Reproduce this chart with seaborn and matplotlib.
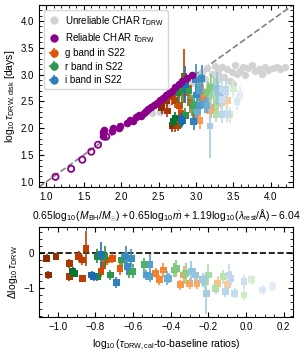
import numpy as np
import pandas as pd
import matplotlib.pyplot as plt
from matplotlib.colors import ListedColormap, Normalize
from matplotlib.lines import Line2D
from matplotlib.ticker import AutoMinorLocator, MultipleLocator
import seaborn as sns

# CHAR tau_DRW, unreliable (grey)
unrel_x = [2.41, 2.52, 2.62, 2.75, 2.88, 2.95, 3.00, 3.05, 3.08, 3.12, 3.15, 3.18, 3.22, 3.25,
           3.28, 3.30, 3.35, 3.38, 3.42, 3.45, 3.48, 3.52, 3.55, 3.59, 3.63, 3.66, 3.70, 3.75,
           3.79, 3.84, 3.88, 3.92, 3.97, 4.03, 4.08, 4.13, 4.19, 3.10, 3.20, 3.32, 3.50]
unrel_y = [2.28, 2.31, 2.45, 2.60, 2.72, 2.85, 2.95, 2.82, 3.05, 2.92, 3.12, 2.80, 3.02, 3.16,
           2.90, 3.06, 3.14, 2.96, 3.10, 2.88, 3.04, 3.18, 3.02, 3.06, 3.15, 3.00, 3.12, 3.18,
           3.06, 3.10, 3.02, 3.15, 3.08, 3.12, 3.15, 3.10, 3.15, 2.70, 2.66, 2.96, 2.82]

# CHAR tau_DRW, reliable (purple filled)
rel_x = [1.76, 1.76, 1.77, 1.88, 1.89, 1.97, 1.98, 2.08, 2.12, 2.16, 2.20, 2.24, 2.27, 2.30,
         2.33, 2.36, 2.40, 2.44, 2.48, 2.52, 2.56, 2.60, 2.64, 2.68, 2.72, 2.77, 2.82, 2.88, 2.95]
rel_y = [1.86, 1.92, 1.97, 1.95, 2.00, 2.00, 2.04, 2.10, 2.15, 2.14, 2.20, 2.24, 2.22, 2.28,
         2.32, 2.36, 2.40, 2.44, 2.47, 2.52, 2.56, 2.62, 2.66, 2.70, 2.76, 2.82, 2.88, 2.94, 2.99]

# reliable, open circles
open_x = [1.12, 1.33, 1.48, 1.60, 1.69, 1.80]
open_y = [1.09, 1.24, 1.41, 1.56, 1.69, 1.84]

# S22 g band
g_ratio = [-1.06, -1.05, -1.01, -0.94, -0.94, -0.89, -0.87, -0.85, -0.87, -0.77, -0.76, -0.74,
           -0.71, -0.67, -0.48, -0.46, -0.44, -0.35, -0.33, -0.30, -0.26, -0.15, -0.10]
g_delta = [-0.15, -0.63, -0.10, -0.30, -0.68, -0.10, -0.20, 0.13, -0.72, -0.53, -0.35, -0.20,
           -0.15, -0.44, -0.58, -0.77, -0.49, -0.91, -0.63, -0.87, -0.87, -0.87, -0.91]
g_err = [0.12, 0.12, 0.10, 0.12, 0.12, 0.15, 0.15, 0.50, 0.10, 0.15, 0.20, 0.15,
         0.15, 0.20, 0.15, 0.15, 0.20, 0.15, 0.25, 0.15, 0.15, 0.20, 0.15]
g_pred = [2.54, 2.68, 2.61, 2.62, 2.72, 2.68, 2.72, 2.84, 2.76, 2.80, 2.78, 2.86,
          2.90, 2.92, 3.06, 3.00, 3.10, 3.05, 3.15, 3.20, 3.25, 3.35, 3.42]

# S22 r band
r_ratio = [-0.92, -0.91, -0.79, -0.79, -0.75, -0.72, -0.66, -0.62, -0.60, -0.54, -0.38, -0.37,
           -0.32, -0.22, -0.20, -0.16, -0.12, -0.01, 0.03]
r_delta = [-0.53, -0.58, -0.10, -0.68, -0.10, -0.63, -0.20, -0.53, -0.53, -0.34, -0.49, -0.44,
           -0.58, -0.82, -0.63, -1.01, -0.68, -1.20, -0.77]
r_err = [0.12, 0.10, 0.20, 0.12, 0.30, 0.15, 0.20, 0.20, 0.20, 0.20, 0.20, 0.25,
         0.30, 0.20, 0.30, 0.15, 0.20, 0.15, 0.15]
r_pred = [2.72, 2.70, 2.76, 2.80, 2.82, 2.86, 2.90, 2.95, 2.98, 3.04, 3.16, 3.20,
          3.24, 3.30, 3.26, 3.27, 3.40, 3.45, 3.50]

# S22 i band
i_ratio = [-0.82, -0.81, -0.77, -0.69, -0.64, -0.63, -0.61, -0.53, -0.51, -0.51, -0.42, -0.41,
           -0.29, -0.27, -0.23, -0.21, -0.11, -0.09, -0.08, -0.06, -0.01, 0.09, 0.14]
i_delta = [-0.63, -0.68, -0.05, -0.85, -0.10, -0.39, -0.15, -0.63, -0.34, -0.68, -0.72, -0.72,
           -0.53, -0.63, -0.77, -1.15, -1.10, -0.63, -0.72, -1.15, -0.82, -1.06, -0.96]
i_err = [0.12, 0.12, 0.35, 0.15, 0.30, 0.20, 0.25, 0.15, 0.30, 0.15, 0.20, 0.15,
         0.30, 0.20, 0.20, 0.60, 0.15, 0.30, 0.20, 0.15, 0.20, 0.15, 0.15]
i_pred = [2.80, 2.82, 2.86, 2.97, 3.00, 3.01, 3.08, 3.05, 3.05, 3.12, 3.02, 3.15,
          3.28, 3.30, 3.33, 3.19, 3.35, 3.35, 3.40, 3.42, 3.35, 3.55, 3.59]

sns.set_style("ticks")
plt.rcParams['font.family'] = ['Liberation Sans', 'DejaVu Sans']
plt.rcParams['mathtext.fontset'] = 'custom'
plt.rcParams['mathtext.rm'] = 'Liberation Sans'
plt.rcParams['mathtext.it'] = 'Liberation Sans:italic'
plt.rcParams['mathtext.bf'] = 'Liberation Sans:bold'
plt.rcParams['xtick.direction'] = 'in'
plt.rcParams['ytick.direction'] = 'in'
plt.rcParams['xtick.top'] = True
plt.rcParams['ytick.right'] = True
plt.rcParams['xtick.major.size'] = 3.5
plt.rcParams['ytick.major.size'] = 3.5
plt.rcParams['xtick.minor.size'] = 2
plt.rcParams['ytick.minor.size'] = 2
plt.rcParams['xtick.labelsize'] = 7
plt.rcParams['ytick.labelsize'] = 7
plt.rcParams['axes.edgecolor'] = 'black'
plt.rcParams['xtick.color'] = 'black'
plt.rcParams['ytick.color'] = 'black'
plt.rcParams['text.color'] = 'black'
plt.rcParams['axes.labelcolor'] = 'black'

fig = plt.figure(figsize=(3.04, 3.52), dpi=100)
ax1 = fig.add_axes([39/304, 1-187/352, 254/304, 182/352])
ax2 = fig.add_axes([39/304, 1-317/352, 254/304, 90/352])

ax1.plot([0.9, 4.3], [0.9, 4.3], ls='--', color='gray', lw=1.2, zorder=1)

unrel = pd.DataFrame({"x": unrel_x, "y": unrel_y})
rel = pd.DataFrame({"x": rel_x, "y": rel_y})
opn = pd.DataFrame({"x": open_x, "y": open_y})
sns.scatterplot(data=unrel, x="x", y="y", color="lightgray", s=28, linewidth=0,
                ax=ax1, zorder=2)

bands = [("g", g_ratio, g_delta, g_err, g_pred, "Oranges"),
         ("r", r_ratio, r_delta, r_err, r_pred, "Greens"),
         ("i", i_ratio, i_delta, i_err, i_pred, "Blues")]
norm = Normalize(-1.1, 0.2)
for name, ratio, delta, err, pred, cname in bands:
    base = plt.get_cmap(cname)
    cmap = ListedColormap(base(np.linspace(0.98, 0.07, 256)))
    df = pd.DataFrame({"ratio": ratio, "delta": delta, "err": err, "pred": pred})
    df["obs"] = df["pred"] + df["delta"]
    cols = [cmap(norm(v)) for v in df["ratio"]]
    ax1.vlines(df["pred"], df["obs"] - df["err"], df["obs"] + df["err"], colors=cols,
               lw=1.2, zorder=3)
    sns.scatterplot(data=df, x="pred", y="obs", hue="ratio", palette=cmap, hue_norm=norm,
                    marker="s", s=24, linewidth=0, legend=False, ax=ax1, zorder=3)
    ax2.vlines(df["ratio"], df["delta"] - df["err"], df["delta"] + df["err"], colors=cols,
               lw=1.2, zorder=3)
    sns.scatterplot(data=df, x="ratio", y="delta", hue="ratio", palette=cmap, hue_norm=norm,
                    marker="s", s=24, linewidth=0, legend=False, ax=ax2, zorder=3)

sns.scatterplot(data=rel, x="x", y="y", color="#8b008b", s=30, linewidth=0, ax=ax1, zorder=4)
sns.scatterplot(data=opn, x="x", y="y", facecolor="none", edgecolor="#8b008b", s=20,
                linewidth=1.3, ax=ax1, zorder=4)

ax1.set_xlim(0.9, 4.3)
ax1.set_ylim(0.9, 4.3)
ax1.xaxis.set_major_locator(MultipleLocator(0.5))
ax1.yaxis.set_major_locator(MultipleLocator(0.5))
ax1.xaxis.set_minor_locator(AutoMinorLocator())
ax1.yaxis.set_minor_locator(AutoMinorLocator())
ax1.set_xlabel(r"$0.65\log_{10}(M_{\rm BH}/M_{\odot}) + 0.65\log_{10}\dot{m} + "
               r"1.19\log_{10}(\lambda_{\rm rest}/\mathrm{\AA}) - 6.04$", fontsize=7.5)
ax1.set_ylabel(r"$\log_{10}\tau_{\rm DRW,disk}$ [days]", fontsize=7.5, labelpad=2)

handles = [
    Line2D([], [], marker='o', ls='none', color='lightgray', ms=5),
    Line2D([], [], marker='o', ls='none', color='#8b008b', ms=5),
]
for cname in ["Oranges", "Greens", "Blues"]:
    c = plt.get_cmap(cname)(0.7)
    h = ax1.errorbar([np.nan], [np.nan], xerr=[0.1], yerr=[0.1], fmt='o', ms=5, color=c,
                     elinewidth=1.2)
    handles.append(h)
labels = [r"Unreliable CHAR $\tau_{\rm DRW}$", r"Reliable CHAR $\tau_{\rm DRW}$",
          "g band in S22", "r band in S22", "i band in S22"]
ax1.legend(handles, labels, loc="upper left", fontsize=7, frameon=True,
           handletextpad=0.6, labelspacing=0.35, borderpad=0.4, handlelength=1.2)

ax2.axhline(0, ls='--', color='black', lw=1.2, zorder=1)
ax2.set_xlim(-1.1, 0.25)
ax2.set_ylim(-1.83, 0.74)
ax2.xaxis.set_major_locator(MultipleLocator(0.2))
ax2.yaxis.set_major_locator(MultipleLocator(1))
ax2.xaxis.set_minor_locator(AutoMinorLocator())
ax2.yaxis.set_minor_locator(AutoMinorLocator())
ax2.set_xlabel(r"$\log_{10}(\tau_{\rm DRW,cal}$-to-baseline ratios)", fontsize=7.5)
ax2.set_ylabel(r"$\Delta\log_{10}\tau_{\rm DRW}$", fontsize=7.5, labelpad=2)

fig.savefig("out.png", dpi=100)
